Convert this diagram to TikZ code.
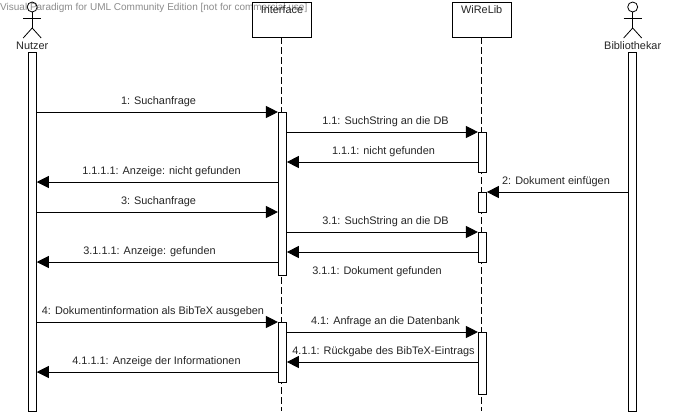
\documentclass[tikz,border=0pt]{standalone}
\usepackage{fontspec}
\setmainfont{Liberation Sans}
\usetikzlibrary{arrows.meta,calc}
\tikzset{
  x=1pt,y=-1pt,
  txt/.style={inner sep=0pt,anchor=base,font=\fontsize{10.9}{12}\selectfont,text=black!85},
  mark text/.style={inner sep=0pt,anchor=base west,font=\fontsize{10}{12}\selectfont,text=black!45},
  headbox/.style={draw,line width=0.9pt,minimum width=59.4pt,minimum height=35pt,inner sep=0pt},
  lifedash/.style={line width=0.9pt,dash pattern=on 7pt off 3pt},
  actbar/.style={draw,fill=white,line width=0.9pt,minimum width=8pt,inner sep=0pt},
  msg/.style={line width=0.9pt,-{Triangle[length=12pt,width=12pt]}},
  limb/.style={line width=0.8pt},
}
\begin{document}
\begin{tikzpicture}
\useasboundingbox (0,0) rectangle (675,416);
\fill[white] (0,0) rectangle (675,416);
% watermark
\node[mark text] (wm) at (0,10.7) {Visual Paradigm for UML Community Edition [not for commercial use]};
% lifeline headers
\node[headbox] (ifh) at (282,19.5) {};
\node[txt] (ift) at (282,13.5) {Interface};
\node[headbox] (wrh) at (482,19.5) {};
\node[txt] (wrt) at (481.7,13.5) {WiReLib};
% lifeline ends
\coordinate (ifend) at (281.6,411);
\coordinate (wrend) at (481.6,411);
\draw[lifedash] (ifh.south -| ifend) -- (ifend);
\draw[lifedash] (wrh.south -| wrend) -- (wrend);
% actors
\foreach \n/\x/\t in {nu/32.2/Nutzer,bi/632.7/Bibliothekar}{
  \draw[limb] (\x,7) circle (5);
  \draw[limb] (\x,12) -- (\x,28);
  \draw[limb] (\x-9,18) -- (\x+9,18);
  \draw[limb] (\x-9,38) -- (\x,28) -- (\x+9,38);
  \node[txt] (\n t) at (\x,49) {\t};
}
% activations
\node[actbar,minimum height=359pt] (nu) at (32.3,231.5) {};
\node[actbar,minimum height=359pt] (bi) at (632.7,231.5) {};
\node[actbar,minimum height=163pt] (if1) at (282.4,193.5) {};
\node[actbar,minimum height=60pt] (if2) at (282.4,352) {};
\node[actbar,minimum height=40pt] (wr1) at (482.4,152) {};
\node[actbar,minimum height=20pt] (wr2) at (482.4,202) {};
\node[actbar,minimum height=30pt] (wr3) at (482.4,247) {};
\node[actbar,minimum height=62pt] (wr4) at (482.4,363) {};
% message rows
\foreach \r/\y in {a/112,b/132,c/162,d/182,e/192,f/212,g/232,h/252,i/262,j/322,k/332,l/362,m/372}{
  \coordinate (r\r) at (0,\y);
}
\draw[msg] (nu.east |- ra) -- (if1.west |- ra);
\draw[msg] (if1.east |- rb) -- (wr1.west |- rb);
\draw[msg] (wr1.west |- rc) -- (if1.east |- rc);
\draw[msg] (if1.west |- rd) -- (nu.east |- rd);
\draw[msg] (bi.west |- re) -- (wr2.east |- re);
\draw[msg] (nu.east |- rf) -- (if1.west |- rf);
\draw[msg] (if1.east |- rg) -- (wr3.west |- rg);
\draw[msg] (wr3.west |- rh) -- (if1.east |- rh);
\draw[msg] (if1.west |- ri) -- (nu.east |- ri);
\draw[msg] (nu.east |- rj) -- (if2.west |- rj);
\draw[msg] (if2.east |- rk) -- (wr4.west |- rk);
\draw[msg] (wr4.west |- rl) -- (if2.east |- rl);
\draw[msg] (if2.west |- rm) -- (nu.east |- rm);
% labels
\node[txt] (l1) at (158.5,104.5) {1: Suchanfrage};
\node[txt] (l2) at (385.5,124.5) {1.1: SuchString an die DB};
\node[txt] (l3) at (383.5,154.5) {1.1.1: nicht gefunden};
\node[txt] (l4) at (161.5,174.5) {1.1.1.1: Anzeige: nicht gefunden};
\node[txt] (l5) at (556,184.5) {2: Dokument einfügen};
\node[txt] (l6) at (158.5,204.5) {3: Suchanfrage};
\node[txt] (l7) at (385.5,224.5) {3.1: SuchString an die DB};
\node[txt] (l8) at (377,274.5) {3.1.1: Dokument gefunden};
\node[txt] (l9) at (149.5,254.5) {3.1.1.1: Anzeige: gefunden};
\node[txt] (l10) at (153,314.5) {4: Dokumentinformation als BibTeX ausgeben};
\node[txt] (l11) at (385.5,324.5) {4.1: Anfrage an die Datenbank};
\node[txt] (l12) at (383.5,354.5) {4.1.1: Rückgabe des BibTeX-Eintrags};
\node[txt] (l13) at (156.5,364.5) {4.1.1.1: Anzeige der Informationen};
\end{tikzpicture}
\end{document}
